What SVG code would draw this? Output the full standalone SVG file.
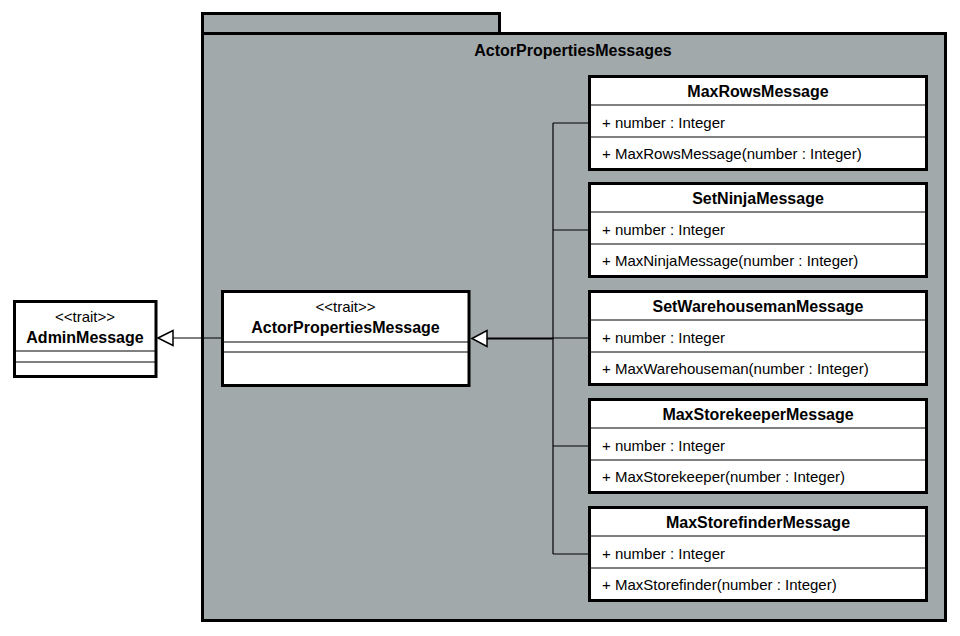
<svg xmlns="http://www.w3.org/2000/svg" width="960" height="636" viewBox="0 0 960 636">
<style>
.pkg{fill:#a2a9ab;stroke:#000;stroke-width:3}
.box{fill:#fff;stroke:#000;stroke-width:3}
.div{stroke:#000;stroke-width:1}
.ln{stroke:#000;stroke-width:1.2;fill:none}
.tri{fill:#fff;stroke:#000;stroke-width:1.5}
.name{font-family:"Liberation Sans",Arial,sans-serif;font-weight:bold;font-size:16px;text-anchor:middle;fill:#000}
.ster{font-family:"Liberation Sans",Arial,sans-serif;font-size:15px;text-anchor:middle;fill:#000}
.mem{font-family:"Liberation Sans",Arial,sans-serif;font-size:15px;fill:#000}
</style>
<rect width="960" height="636" fill="#fff"/>
<g id="ActorPropertiesMessages">
<rect class="pkg" x="202.5" y="13.5" width="297" height="20"/>
<rect class="pkg" x="202.5" y="33.5" width="743" height="587"/>
<text class="name" x="573" y="56">ActorPropertiesMessages</text>
</g>
<g id="connectors">
<line class="ln" x1="173" y1="338" x2="221" y2="338"/>
<polygon class="tri" points="158,338 173,330.5 173,345.5"/>
<line x1="487" y1="338.5" x2="553" y2="338.5" stroke="#000" stroke-width="2"/>
<polygon class="tri" points="472,338.5 487,330.5 487,346.5"/>
<line class="ln" x1="553" y1="123" x2="553" y2="554"/>
<line class="ln" x1="553" y1="123" x2="589" y2="123"/>
<line class="ln" x1="553" y1="230" x2="589" y2="230"/>
<line class="ln" x1="553" y1="338" x2="589" y2="338"/>
<line class="ln" x1="553" y1="446" x2="589" y2="446"/>
<line class="ln" x1="553" y1="554" x2="589" y2="554"/>
</g>
<g id="AdminMessage">
<rect class="box" x="14.5" y="301.5" width="141.5" height="75"/>
<line class="div" x1="14" y1="351" x2="156" y2="351"/>
<line class="div" x1="14" y1="362" x2="156" y2="362"/>
<text class="ster" x="85" y="322">&lt;&lt;trait&gt;&gt;</text>
<text class="name" x="85" y="343">AdminMessage</text>
</g>
<g id="ActorPropertiesMessage">
<rect class="box" x="222.5" y="291.5" width="246.5" height="94"/>
<line class="div" x1="222" y1="342" x2="469" y2="342"/>
<line class="div" x1="222" y1="352" x2="469" y2="352"/>
<text class="ster" x="345.5" y="312">&lt;&lt;trait&gt;&gt;</text>
<text class="name" x="345.5" y="333">ActorPropertiesMessage</text>
</g>
<g id="MaxRowsMessage">
<rect class="box" x="589.5" y="76.5" width="337" height="93"/>
<line class="div" x1="590" y1="105" x2="926" y2="105"/>
<line class="div" x1="590" y1="137" x2="926" y2="137"/>
<text class="name" x="758" y="97">MaxRowsMessage</text>
<text class="mem" x="602" y="128">+ number : Integer</text>
<text class="mem" x="602" y="159">+ MaxRowsMessage(number : Integer)</text>
</g>
<g id="SetNinjaMessage">
<rect class="box" x="589.5" y="183.5" width="337" height="93"/>
<line class="div" x1="590" y1="212" x2="926" y2="212"/>
<line class="div" x1="590" y1="244" x2="926" y2="244"/>
<text class="name" x="758" y="204">SetNinjaMessage</text>
<text class="mem" x="602" y="235">+ number : Integer</text>
<text class="mem" x="602" y="266">+ MaxNinjaMessage(number : Integer)</text>
</g>
<g id="SetWarehousemanMessage">
<rect class="box" x="589.5" y="291.5" width="337" height="93"/>
<line class="div" x1="590" y1="320" x2="926" y2="320"/>
<line class="div" x1="590" y1="352" x2="926" y2="352"/>
<text class="name" x="758" y="312">SetWarehousemanMessage</text>
<text class="mem" x="602" y="343">+ number : Integer</text>
<text class="mem" x="602" y="374">+ MaxWarehouseman(number : Integer)</text>
</g>
<g id="MaxStorekeeperMessage">
<rect class="box" x="589.5" y="399.5" width="337" height="93"/>
<line class="div" x1="590" y1="428" x2="926" y2="428"/>
<line class="div" x1="590" y1="460" x2="926" y2="460"/>
<text class="name" x="758" y="420">MaxStorekeeperMessage</text>
<text class="mem" x="602" y="451">+ number : Integer</text>
<text class="mem" x="602" y="482">+ MaxStorekeeper(number : Integer)</text>
</g>
<g id="MaxStorefinderMessage">
<rect class="box" x="589.5" y="507.5" width="337" height="93"/>
<line class="div" x1="590" y1="536" x2="926" y2="536"/>
<line class="div" x1="590" y1="568" x2="926" y2="568"/>
<text class="name" x="758" y="528">MaxStorefinderMessage</text>
<text class="mem" x="602" y="559">+ number : Integer</text>
<text class="mem" x="602" y="590">+ MaxStorefinder(number : Integer)</text>
</g>
</svg>
